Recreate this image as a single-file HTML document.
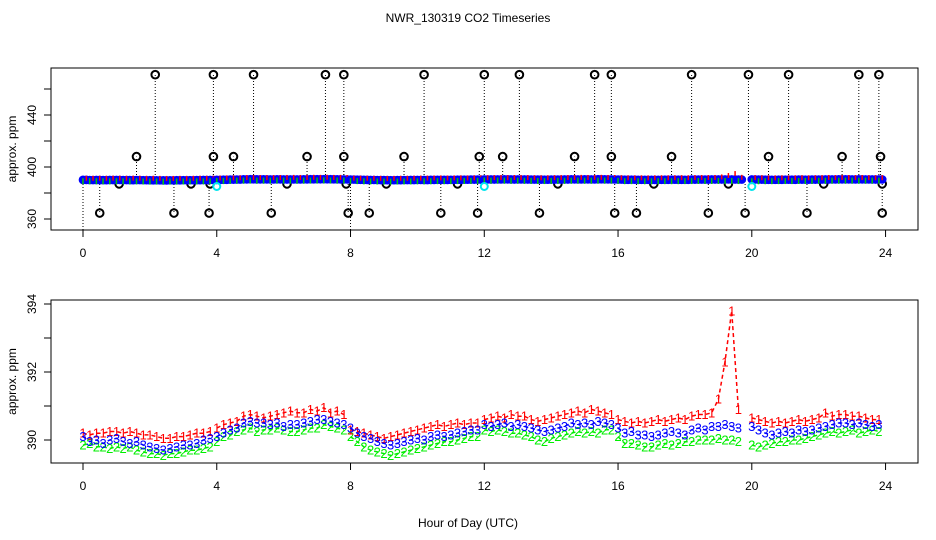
<!DOCTYPE html>
<html><head><meta charset="utf-8"><style>
html,body{margin:0;padding:0;background:#fff}
svg{display:block;font-family:"Liberation Sans",Arial,sans-serif}
</style></head><body>
<svg id="chart" width="936" height="540" viewBox="0 0 936 540" xmlns="http://www.w3.org/2000/svg">
<defs>
<clipPath id="clipTop"><rect x="51" y="68" width="867" height="162"/></clipPath>
<clipPath id="clipBot"><rect x="51" y="300" width="867" height="163"/></clipPath>
</defs>
<text x="468" y="22" font-size="12" text-anchor="middle">NWR_130319  CO2 Timeseries</text>
<text x="468" y="527" font-size="12" text-anchor="middle">Hour of Day (UTC)</text>
<g id="top"></g>
<g id="bot"></g>
</svg>
<script>
// ---- data ----
const xTicks = [0, 4, 8, 12, 16, 20, 24];
const topYTicks = [360, 380, 400, 420, 440, 460];
const topYLabels = [360, 400, 440];
const botYTicks = [390, 391, 392, 393, 394];
const botYLabels = [390, 392, 394];
const segStarts = [0, 4, 8, 12, 16, 20];
const stepHours = 0.2;
const redSeries = [
 [390.2,390.15,390.2,390.2,390.25,390.25,390.2,390.25,390.2,390.15,390.15,390.1,390.05,390.05,390.1,390.1,390.15,390.2,390.2,390.25],
 [390.35,390.45,390.5,390.55,390.7,390.75,390.7,390.65,390.7,390.75,390.8,390.85,390.8,390.8,390.9,390.85,390.95,390.8,390.85,390.75],
 [390.3,390.25,390.2,390.15,390.1,390.05,390.1,390.15,390.2,390.25,390.3,390.35,390.4,390.45,390.4,390.45,390.5,390.45,390.5,390.5],
 [390.6,390.65,390.7,390.65,390.75,390.7,390.7,390.6,390.55,390.6,390.65,390.7,390.75,390.8,390.85,390.8,390.9,390.85,390.8,390.75],
 [390.6,390.55,390.5,390.55,390.5,390.55,390.6,390.55,390.6,390.65,390.6,390.7,390.75,390.75,390.8,391.2,392.3,393.8,390.9],
 [390.65,390.6,390.55,390.5,390.55,390.5,390.55,390.6,390.55,390.6,390.65,390.8,390.7,390.75,390.75,390.7,390.7,390.65,390.6,390.6]
];
const greenSeries = [
 [389.85,389.9,389.8,389.8,389.75,389.8,389.75,389.8,389.7,389.65,389.6,389.6,389.55,389.6,389.6,389.65,389.7,389.7,389.75,389.8],
 [389.95,390.1,390.15,390.25,390.3,390.35,390.25,390.3,390.3,390.35,390.3,390.25,390.25,390.3,390.35,390.35,390.45,390.4,390.35,390.3],
 [390.1,389.95,389.8,389.7,389.65,389.6,389.55,389.6,389.65,389.7,389.75,389.8,389.85,389.9,389.95,389.95,390.0,390.05,390.1,390.1],
 [390.3,390.25,390.3,390.25,390.2,390.2,390.15,390.1,390.0,389.95,390.05,390.1,390.15,390.2,390.25,390.2,390.25,390.2,390.3,390.3],
 [390.1,389.9,389.9,389.85,389.8,389.8,389.85,389.9,389.85,389.9,389.95,389.95,390.0,390.0,390.0,390.05,390.0,390.0,389.95],
 [389.85,389.8,389.85,389.9,389.95,389.95,390.0,390.0,390.05,390.1,390.15,390.2,390.25,390.2,390.25,390.3,390.2,390.25,390.3,390.25]
];
const blueSeries = [
 [390.1,389.95,390.0,389.9,390.0,390.05,389.95,389.9,389.95,389.85,389.8,389.75,389.7,389.75,389.8,389.85,389.85,389.9,390.0,390.05],
 [390.1,390.2,390.3,390.35,390.5,390.55,390.5,390.5,390.45,390.5,390.4,390.45,390.45,390.5,390.55,390.6,390.6,390.55,390.5,390.45],
 [390.35,390.2,390.1,390.05,389.95,389.9,389.85,389.9,389.95,390.0,390.05,390.0,390.1,390.15,390.1,390.15,390.2,390.25,390.3,390.3],
 [390.45,390.4,390.45,390.5,390.4,390.45,390.4,390.35,390.3,390.25,390.3,390.35,390.4,390.5,390.45,390.5,390.45,390.55,390.5,390.45],
 [390.35,390.2,390.25,390.15,390.15,390.1,390.15,390.2,390.25,390.2,390.15,390.3,390.35,390.3,390.4,390.4,390.45,390.4,390.35],
 [390.4,390.3,390.2,390.15,390.2,390.25,390.2,390.3,390.25,390.3,390.35,390.4,390.45,390.5,390.5,390.45,390.5,390.45,390.4,390.45]
];
const outlierHours = [0,2.16,3.9,5.1,7.25,7.8,10.2,12.0,13.05,15.3,15.8,18.2,19.9,21.1,23.2,23.8,
 1.6,3.9,4.5,6.7,7.8,9.6,11.85,12.55,14.7,15.8,17.6,20.5,22.7,23.85,
 0.5,2.72,3.77,5.63,7.93,8.0,8.56,10.7,11.8,13.65,15.9,16.55,18.7,19.8,21.65,23.9,
 1.08,3.23,3.8,6.1,7.87,9.07,11.2,14.2,17.07,19.3,22.15,23.9];
const outlierValues = [340,471,471,471,471,471,471,471,471,471,471,471,471,471,471,471,
 408,408,408,408,408,408,408,408,408,408,408,408,408,408,
 364.6,364.6,364.6,364.6,364.6,340,364.6,364.6,364.6,364.6,364.6,364.6,364.6,364.6,364.6,364.6,
 387,387,387,387,387,387,387,387,387,387,387,387];
const cyanHours = [4.0, 12.0, 20.0];
const cyanValues = [385, 385, 385];
const baseValue = 391.5;

// ---- scales ----
const NS = "http://www.w3.org/2000/svg";
const X0 = 83, PXH = 33.44;
const xs = h => X0 + h * PXH;
const yTop = v => 219 - (v - 360) * 1.3;
const yBot = v => 440 - (v - 390) * 34;

function mk(tag, attrs, parent) {
  const e = document.createElementNS(NS, tag);
  for (const k in attrs) e.setAttribute(k, attrs[k]);
  parent.appendChild(e);
  return e;
}

function axes(g, top, bottom, yTicks, yLabels, ys, name) {
  const box = mk('rect', {x:51, y:top, width:867, height:bottom-top, fill:'none', stroke:'#000', 'stroke-width':1}, g);
  
  
  const xa = mk('g', {}, g);
  
  
  xTicks.forEach(t => {
    mk('line', {x1:xs(t), x2:xs(t), y1:bottom, y2:bottom+7, stroke:'#000'}, xa);
    const tx = mk('text', {x:xs(t), y:bottom+27, 'font-size':12, 'text-anchor':'middle'}, xa);
    tx.textContent = t;
    
    
  });
  const ya = mk('g', {}, g);
  
  
  yTicks.forEach(v => mk('line', {x1:44, x2:51, y1:ys(v), y2:ys(v), stroke:'#000'}, ya));
  yLabels.forEach(v => {
    const tx = mk('text', {x:0, y:0, 'font-size':12, 'text-anchor':'middle', transform:`translate(36,${ys(v)}) rotate(-90)`}, ya);
    tx.textContent = v;
    
    
  });
  const yt = mk('text', {x:0, y:0, 'font-size':12, 'text-anchor':'middle', transform:`translate(16,${(top+bottom)/2}) rotate(-90)`}, g);
  yt.textContent = 'approx. ppm';
  
  
}

// ---- top panel ----
const gT = document.getElementById('top');
axes(gT, 68, 230, topYTicks, topYLabels, yTop, 'top');
const tData = mk('g', {'clip-path':'url(#clipTop)'}, gT);


// black outliers
outlierHours.forEach((h, i) => {
  const ln = mk('line', {x1:xs(h), x2:xs(h), y1:yTop(baseValue), y2:yTop(outlierValues[i]), stroke:'#000', 'stroke-width':1, 'stroke-dasharray':'1,2'}, tData);
  
  
});
outlierHours.forEach((h, i) => {
  if (outlierValues[i] < 355) return;
  const c = mk('circle', {cx:xs(h), cy:yTop(outlierValues[i]), r:3.8, fill:'none', stroke:'#000', 'stroke-width':2}, tData);
  
  
});
// band
segStarts.forEach((s, si) => {
  blueSeries[si].forEach((v, i) => {
    const c = mk('circle', {cx:xs(s + i*stepHours), cy:yTop(v), r:3.6, fill:'#0000ff', stroke:'#0000ff', 'stroke-width':1.5}, tData);
    
    
    const c2 = mk('circle', {cx:xs(s + i*stepHours + 0.1), cy:yTop(v), r:3.6, fill:'#0000ff', stroke:'#0000ff', 'stroke-width':1.5}, tData);
    
    
  });
  greenSeries[si].forEach((v, i) => {
    const l = mk('line', {x1:xs(s + i*stepHours), x2:xs(s + i*stepHours), y1:yTop(v)-2, y2:yTop(v)+4, stroke:'#00cc00', 'stroke-width':1.5}, tData);
    
    
  });
  redSeries[si].forEach((v, i) => {
    const l = mk('line', {x1:xs(s + i*stepHours + 0.1), x2:xs(s + i*stepHours + 0.1), y1:yTop(v)-4, y2:yTop(v)+1, stroke:'#ff0000', 'stroke-width':1.5}, tData);
    
    
  });
});
cyanHours.forEach((h, i) => {
  const c = mk('circle', {cx:xs(h), cy:yTop(cyanValues[i]), r:3.5, fill:'none', stroke:'#00e5ee', 'stroke-width':2}, tData);
  
  
});

// ---- bottom panel ----
const gB = document.getElementById('bot');
axes(gB, 300, 463, botYTicks, botYLabels, yBot, 'bottom');
const bData = mk('g', {'clip-path':'url(#clipBot)'}, gB);


function drawSeries(series, color, ch, name) {
  segStarts.forEach((s, si) => {
    const pts = series[si].map((v, i) => xs(s + i*stepHours).toFixed(1) + ',' + yBot(v).toFixed(1)).join(' ');
    const pl = mk('polyline', {points:pts, fill:'none', stroke:color, 'stroke-width':1.5, 'stroke-dasharray':'4,3'}, bData);
    
    
    series[si].forEach((v, i) => {
      const t = mk('text', {x:xs(s + i*stepHours), y:yBot(v)+4.5, 'font-size':13, 'text-anchor':'middle', fill:color}, bData);
      t.textContent = ch;
      
      
    });
  });
}
drawSeries(greenSeries, '#00ee00', '2', 'green');
drawSeries(redSeries, '#ff0000', '1', 'red');
drawSeries(blueSeries, '#0000ff', '3', 'blue');
</script>
</body></html>
